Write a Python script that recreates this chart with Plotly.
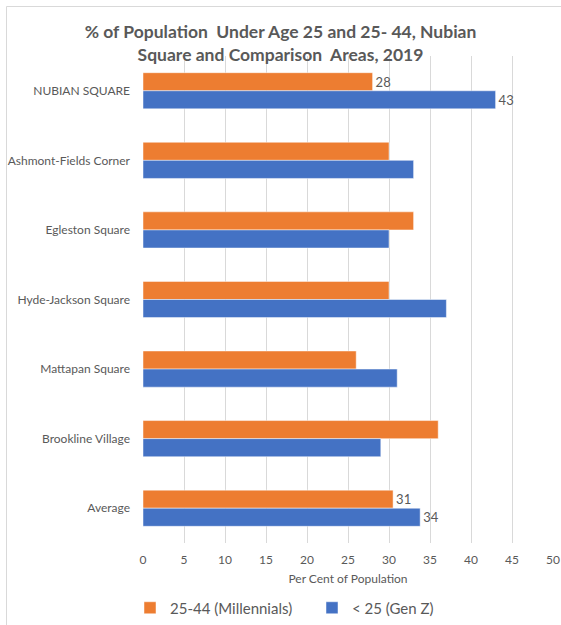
import plotly.graph_objects as go

# Areas compared, top to bottom
areas = [
    "NUBIAN SQUARE",
    "Ashmont-Fields Corner",
    "Egleston Square",
    "Hyde-Jackson Square",
    "Mattapan Square",
    "Brookline Village",
    "Average",
]

# Per cent of population in each age group
millennials = [28, 30, 33, 30, 26, 36, 30.5]
gen_z = [43, 33, 30, 37, 31, 29, 33.8]

# Data labels shown only for the focus area and the average
millennials_labels = ["28", "", "", "", "", "", "31"]
gen_z_labels = ["43", "", "", "", "", "", "34"]

x_ticks = list(range(0, 55, 5))

ORANGE = "#ED7D31"
BLUE = "#4472C4"
GRAY = "#595959"
FONT = "Lato, 'Open Sans', sans-serif"

fig = go.Figure()
fig.add_trace(go.Bar(
    y=areas, x=millennials, orientation="h", name="25-44 (Millennials)",
    marker=dict(color=ORANGE, line=dict(color="rgba(255,255,255,0.6)", width=0.8)),
    text=millennials_labels, textposition="outside", cliponaxis=False,
    textfont=dict(color=GRAY, size=13, family=FONT),
))
fig.add_trace(go.Bar(
    y=areas, x=gen_z, orientation="h", name="< 25 (Gen Z)",
    marker=dict(color=BLUE, line=dict(color="rgba(255,255,255,0.6)", width=0.8)),
    text=gen_z_labels, textposition="outside", cliponaxis=False,
    textfont=dict(color=GRAY, size=13, family=FONT),
))

W, H = 561, 625
L, R, T, B = 143, 8, 56, 82
pw, ph = W - L - R, H - T - B

def px_to_paper_x(px):
    return (px - L) / pw

def px_to_paper_y(py):
    return (H - B - py) / ph

# Chart frame: only the top and left edges fall inside the page
frame_color = "#D9D9D9"
frame = [
    dict(type="line", xref="paper", yref="paper",
         x0=px_to_paper_x(6.5), x1=px_to_paper_x(W),
         y0=px_to_paper_y(6.5), y1=px_to_paper_y(6.5),
         line=dict(color=frame_color, width=1), layer="below"),
    dict(type="line", xref="paper", yref="paper",
         x0=px_to_paper_x(6.5), x1=px_to_paper_x(6.5),
         y0=px_to_paper_y(6.5), y1=px_to_paper_y(H),
         line=dict(color=frame_color, width=1), layer="below"),
]

fig.update_layout(
    width=W, height=H,
    margin=dict(l=L, r=R, t=T, b=B, pad=0, autoexpand=False),
    paper_bgcolor="white", plot_bgcolor="white",
    barmode="group", bargap=0.48, bargroupgap=0,
    font=dict(family=FONT, color=GRAY),
    title=dict(
        text="<b>% of Population  Under Age 25 and 25- 44, Nubian<br>Square and Comparison  Areas, 2019</b>",
        x=0.5, xanchor="center", y=1 - 38 / H, yanchor="middle",
        font=dict(size=17.5, color=GRAY, family=FONT),
    ),
    xaxis=dict(
        range=[0, 50], tickvals=x_ticks, showgrid=True, gridcolor="#D9D9D9",
        gridwidth=1, zeroline=False, showline=False, ticks="", automargin=False,
        tickfont=dict(size=12, color=GRAY), ticklabelstandoff=8,
        title=dict(text="Per Cent of Population", font=dict(size=12, color=GRAY), standoff=8),
    ),
    yaxis=dict(
        autorange="reversed", showgrid=False, showline=False, ticks="", automargin=False,
        tickfont=dict(size=12, color=GRAY), ticklabelstandoff=12,
    ),
    legend=dict(
        orientation="h", x=px_to_paper_x(130), xanchor="left",
        y=px_to_paper_y(608), yanchor="middle",
        font=dict(size=15, color=GRAY), itemwidth=30,
        entrywidth=137, traceorder="normal",
    ),
    showlegend=True,
    shapes=frame,
)

fig.write_html("out.html")
